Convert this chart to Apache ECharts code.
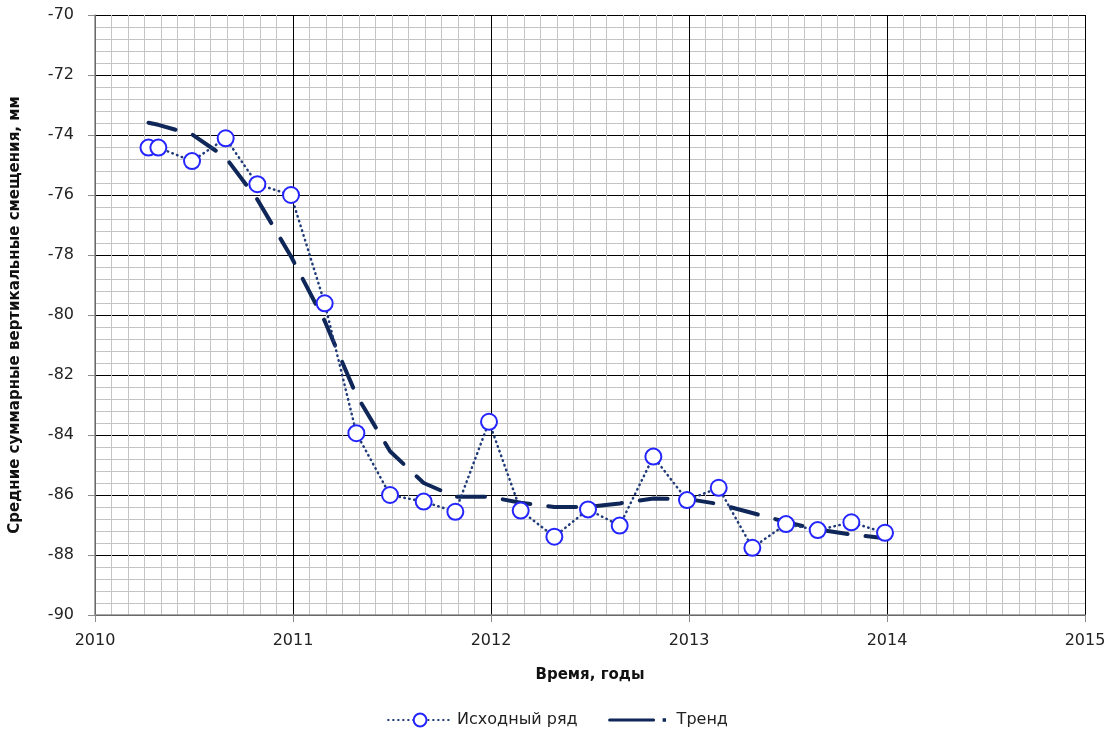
<!DOCTYPE html>
<html>
<head>
<meta charset="utf-8">
<script src="https://cdn.jsdelivr.net/npm/echarts@6/dist/echarts.min.js"></script>
<style>
html, body { margin: 0; padding: 0; background: #fff; }
#chart { width: 1115px; height: 735px; }
</style>
</head>
<body>
<div id="chart"></div>
<script>
// время измерений, годы
const times = [2010.27, 2010.32, 2010.49, 2010.66, 2010.82, 2010.99, 2011.16, 2011.32,
  2011.49, 2011.66, 2011.82, 2011.99, 2012.15, 2012.32, 2012.49, 2012.65,
  2012.82, 2012.99, 2013.15, 2013.32, 2013.49, 2013.65, 2013.82, 2013.99]
// исходный ряд, мм
const values = [-74.42, -74.42, -74.87, -74.11, -75.64, -76.0, -79.61, -83.94,
  -86.0, -86.22, -86.56, -83.56, -86.52, -87.39, -86.48, -87.02,
  -84.72, -86.17, -85.76, -87.76, -86.97, -87.17, -86.91, -87.26]
// тренд, мм
const trend = [-73.59, -73.66, -73.98, -74.75, -76.15, -78.05, -80.2, -82.67,
  -84.54, -85.6, -86.06, -86.06, -86.26, -86.4, -86.4, -86.28,
  -86.12, -86.13, -86.3, -86.6, -86.9, -87.15, -87.32, -87.44]
const yearTicks = ['2010', '2011', '2012', '2013', '2014', '2015']

const chart = echarts.init(document.getElementById('chart'))
const font = 'DejaVu Sans'

// значок легенды для тренда: штрих и точка, рамка 64x16
const trendIcon = 'path://M0,0h0.01v0.01h-0.01Z M64,16h-0.01v-0.01h0.01Z ' +
  'M2,6.5h44a1.5,1.5 0 0 1 0,3h-44a1.5,1.5 0 0 1 0,-3Z M55,6.3h3.4v3.4h-3.4Z'

chart.setOption({
  animation: false,
  grid: { left: 93, right: 30, top: 15, bottom: 120 },
  legend: {
    bottom: 2,
    left: 'center',
    itemWidth: 64,
    itemHeight: 16,
    itemGap: 30,
    textStyle: { fontFamily: font, fontSize: 16, color: '#222' },
    data: [
      { name: 'Исходный ряд' },
      { name: 'Тренд', icon: trendIcon }
    ]
  },
  xAxis: {
    type: 'value',
    min: 2010,
    max: 2015,
    interval: 1,
    name: 'Время, годы',
    nameLocation: 'middle',
    nameGap: 53,
    nameTextStyle: { fontFamily: font, fontSize: 15, fontWeight: 'bold', color: '#111' },
    axisLine: { lineStyle: { color: '#8c8c8c', width: 1.5 } },
    axisTick: { show: true, length: 7, lineStyle: { color: '#8c8c8c' } },
    axisLabel: {
      margin: 18,
      fontFamily: font,
      fontSize: 16,
      color: '#222',
      formatter: v => yearTicks[Math.round(v - 2010)]
    },
    splitLine: { show: true, lineStyle: { color: '#000', width: 1 } },
    minorTick: { show: false, splitNumber: 12 },
    minorSplitLine: { show: true, lineStyle: { color: '#c4c4c4', width: 1 } }
  },
  yAxis: {
    type: 'value',
    min: -90,
    max: -70,
    interval: 2,
    name: 'Средние суммарные вертикальные смещения, мм',
    nameLocation: 'middle',
    nameGap: 72,
    nameTextStyle: { fontFamily: font, fontSize: 15, fontWeight: 'bold', color: '#111' },
    axisLine: { show: true, lineStyle: { color: '#8c8c8c', width: 1.5 } },
    axisTick: { show: true, length: 7, lineStyle: { color: '#8c8c8c' } },
    axisLabel: { margin: 21, fontFamily: font, fontSize: 16, color: '#222' },
    splitLine: { show: true, lineStyle: { color: '#000', width: 1 } },
    minorTick: { show: false, splitNumber: 5 },
    minorSplitLine: { show: true, lineStyle: { color: '#c4c4c4', width: 1 } }
  },
  series: [
    {
      name: 'Тренд',
      type: 'line',
      symbol: 'none',
      z: 3,
      lineStyle: { color: '#0f2658', width: 4, type: [28, 18], cap: 'round' },
      itemStyle: { color: '#0f2658' },
      data: times.map((t, i) => [t, trend[i]])
    },
    {
      name: 'Исходный ряд',
      type: 'line',
      symbol: 'emptyCircle',
      symbolSize: 16,
      z: 4,
      lineStyle: { color: '#1f3a78', width: 2.5, type: [0.5, 4.5], cap: 'round' },
      itemStyle: { color: '#2525ff', borderWidth: 1.6 },
      data: times.map((t, i) => [t, values[i]])
    }
  ]
})
</script>
</body>
</html>
